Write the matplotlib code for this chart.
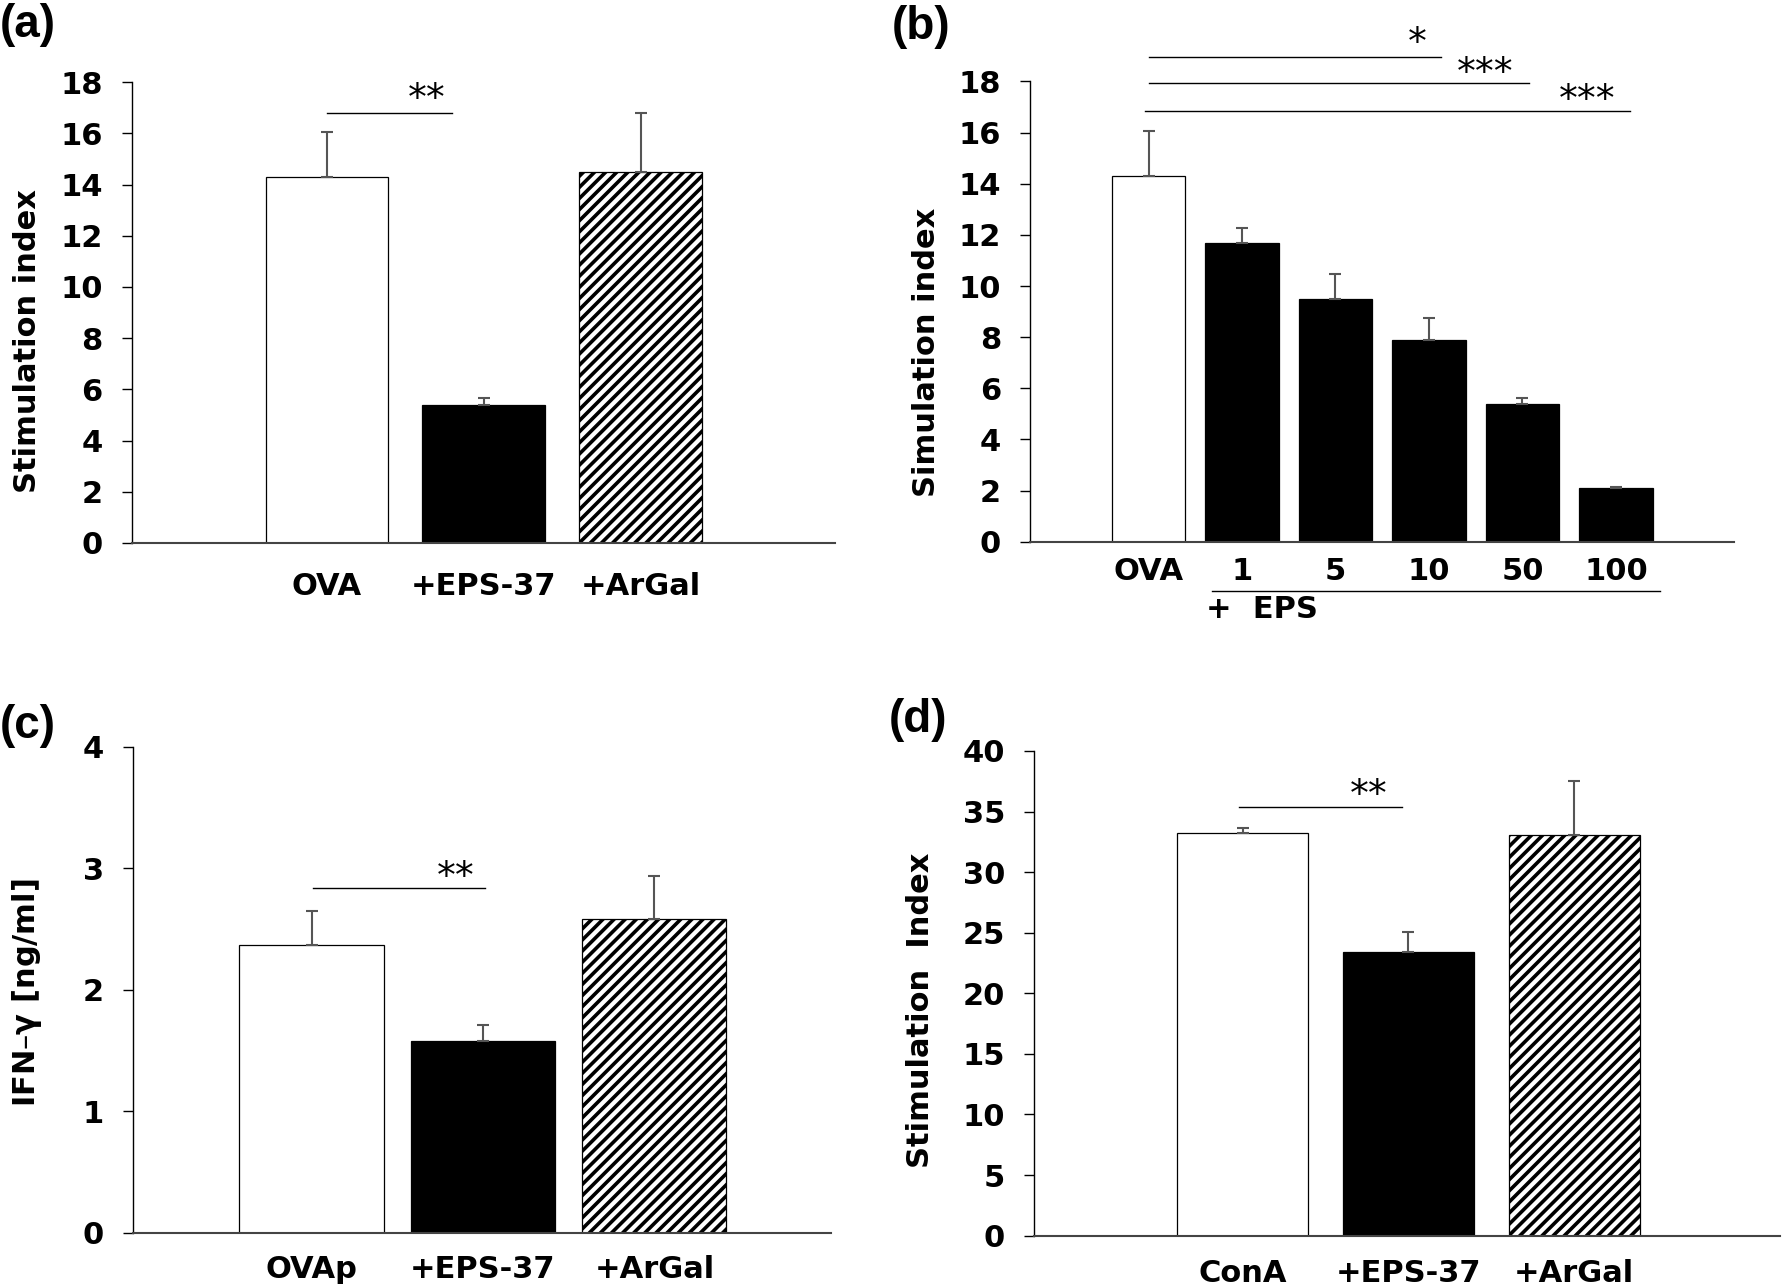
import matplotlib.pyplot as plt
import numpy as np

plt.rcParams['font.family'] = ['DejaVu Sans']
plt.rcParams['font.weight'] = 'bold'
plt.rcParams['axes.labelweight'] = 'bold'
plt.rcParams['hatch.linewidth'] = 2.6

# (a) OVA-specific proliferation
a_labels = ['OVA', '+EPS-37', '+ArGal']
a_values = [14.3, 5.4, 14.5]
a_err = [1.75, 0.25, 2.3]

# (b) dose response to EPS
b_labels = ['OVA', '1', '5', '10', '50', '100']
b_values = [14.3, 11.7, 9.5, 7.9, 5.4, 2.1]
b_err = [1.75, 0.58, 0.96, 0.84, 0.24, 0.03]

# (c) IFN-gamma
c_labels = ['OVAp', '+EPS-37', '+ArGal']
c_values = [2.37, 1.58, 2.58]
c_err = [0.28, 0.13, 0.36]

# (d) ConA stimulation
d_labels = ['ConA', '+EPS-37', '+ArGal']
d_values = [33.2, 23.4, 33.1]
d_err = [0.45, 1.65, 4.45]

W, H = 1783, 1286
fig = plt.figure(figsize=(W / 100, H / 100), dpi=100)


def fig_box(left, right, bottom, top):
    # pixel box -> figure fraction rect
    return [left / W, 1 - bottom / H, (right - left) / W, (bottom - top) / H]


def bar_panel(rect, labels, values, err, styles, width, xlim, ylim, yticks,
              ylabel, ylabel_xy, xpad):
    ax = fig.add_axes(rect)
    x = np.arange(len(labels))
    for xi, v, s in zip(x, values, styles):
        if s == 'white':
            ax.bar(xi, v, width, color='white', edgecolor='black', lw=0.9)
        elif s == 'black':
            ax.bar(xi, v, width, color='black', edgecolor='black', lw=0.9)
        else:
            ax.bar(xi, v, width, color='white', edgecolor='black', lw=0.9,
                   hatch='///')
    ax.errorbar(x, values, yerr=[np.zeros(len(err)), err], fmt='none',
                ecolor='#555555', elinewidth=1.5, capsize=4.3, capthick=1.5,
                zorder=3)
    ax.set_xlim(*xlim)
    ax.set_ylim(*ylim)
    ax.set_yticks(yticks)
    ax.set_xticks(x, labels)
    ax.tick_params(axis='y', length=7, width=1, labelsize=22, pad=14)
    ax.tick_params(axis='x', length=0, labelsize=22, pad=xpad)
    for side in ['top', 'right']:
        ax.spines[side].set_visible(False)
    ax.spines['left'].set_linewidth(1)
    ax.spines['bottom'].set_linewidth(1.5)
    ax.spines['bottom'].set_color('#444444')
    ax.set_ylabel(ylabel, fontsize=22, fontweight='bold')
    ax.yaxis.label.set_ha('center')
    ax.yaxis.label.set_va('center')
    ax.yaxis.set_label_coords(ylabel_xy[0] / W, 1 - ylabel_xy[1] / H,
                              transform=fig.transFigure)
    return ax


def sig(ax, x0, x1, y, xs, ys, stars):
    ax.plot([x0, x1], [y, y], color='black', lw=1, clip_on=False)
    ax.text(xs, ys, stars, ha='center', va='center', fontsize=27,
            fontweight='normal', clip_on=False)


ax_a = bar_panel(fig_box(131.7, 835, 542.9, 82.1), a_labels, a_values, a_err,
                 ['white', 'black', 'hatch'], 0.78, (-1.244, 3.24), (0, 18),
                 range(0, 19, 2), 'Stimulation index', (28, 341), 21)
sig(ax_a, 0, 0.80, 16.8, 0.64, 17.3, '**')

ax_b = bar_panel(fig_box(1030.2, 1733.7, 541.8, 81.4), b_labels, b_values,
                 b_err, ['white'] + ['black'] * 5, 0.79, (-1.266, 6.26),
                 (0, 18), range(0, 19, 2), 'Simulation index', (926.6, 352),
                 11)
sig(ax_b, 0, 3.13, 18.96, 2.87, 19.45, '*')
sig(ax_b, 0, 4.07, 17.92, 3.60, 18.3, '***')
sig(ax_b, -0.04, 5.15, 16.86, 4.69, 17.22, '***')
tr = ax_b.get_xaxis_transform()
ax_b.plot([0.68, 5.47], [-0.106, -0.106], color='black', lw=1,
          transform=tr, clip_on=False)
ax_b.text(0.62, -0.148, '+  EPS', transform=tr, ha='left', va='center',
          fontsize=22)

ax_c = bar_panel(fig_box(133.2, 831, 1232.9, 747), c_labels, c_values, c_err,
                 ['white', 'black', 'hatch'], 0.84, (-1.04, 3.03), (0, 4),
                 range(0, 5), 'IFN\u2013$\\mathregular{\\gamma}$ [ng/ml]',
                 (27, 993), 16)
sig(ax_c, 0.01, 1.01, 2.836, 0.84, 2.92, '**')

ax_d = bar_panel(fig_box(1034.3, 1779.6, 1235.6, 751), d_labels, d_values,
                 d_err, ['white', 'black', 'hatch'], 0.79, (-1.257, 3.24),
                 (0, 40), range(0, 41, 5), 'Stimulation  Index', (920.5, 1010),
                 17)
sig(ax_d, -0.02, 0.96, 35.39, 0.76, 36.3, '**')

for lab, px, py in [('(a)', 0, 25), ('(b)', 892, 27), ('(c)', 0, 726),
                    ('(d)', 888.6, 720)]:
    fig.text(px / W, 1 - py / H, lab, family=['Liberation Sans', 'DejaVu Sans'],
             fontsize=33, fontweight='bold', ha='left', va='center')

plt.savefig('out.png', dpi=100)
